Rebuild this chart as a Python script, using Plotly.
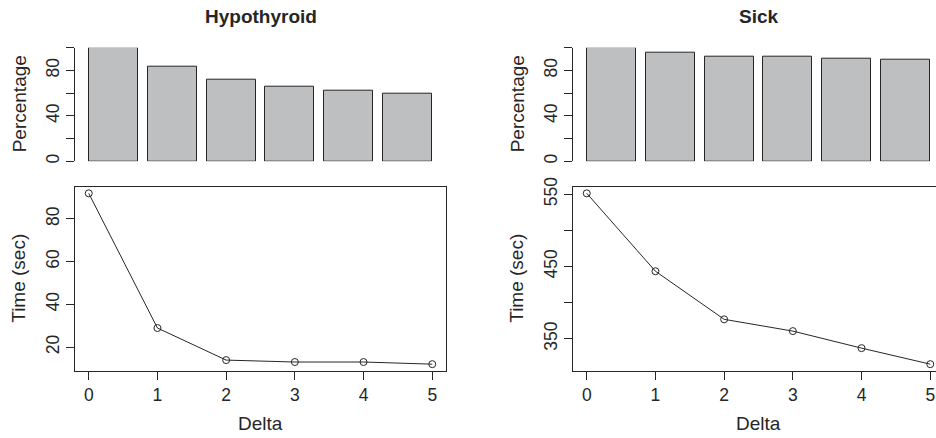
import plotly.graph_objects as go

# ---------------- data ----------------
delta = [0, 1, 2, 3, 4, 5]
hypo_pct = [100, 83.2, 72.1, 65.9, 62.0, 59.7]
sick_pct = [100, 95.3, 92.4, 92.4, 90.0, 89.7]
hypo_time = [91.9, 28.9, 13.9, 13.0, 13.0, 12.0]
sick_time = [551.4, 443.5, 376.9, 360.6, 337.0, 314.8]

pct_ticks = [0, 20, 40, 60, 80, 100]
pct_labels = ["0", "", "40", "", "80", ""]
hypo_time_ticks = [20, 40, 60, 80]
hypo_time_labels = ["20", "40", "60", "80"]
sick_time_ticks = [350, 400, 450, 500, 550]
sick_time_labels = ["350", "", "450", "", "550"]
delta_labels = ["0", "1", "2", "3", "4", "5"]

titles = ["Hypothyroid", "Sick"]

# ---------------- layout geometry (pixels) ----------------
W, H = 936, 438
FONT = "Liberation Sans, Arial, Helvetica, sans-serif"
INK = "#262626"
BAR = "#BEBFC1"
col_x0 = [75, 573]
col_w = 371.0
bar_top, bar_bot = 47.7, 161.3
line_top, line_bot = 186.5, 371.0


def xf(px):
    return px / W


def yf(py):
    return 1 - py / H


def padded(vals):
    lo, hi = min(vals), max(vals)
    d = (hi - lo) * 0.04
    return lo - d, hi + d


fig = go.Figure()

pct_sets = [hypo_pct, sick_pct]
time_sets = [hypo_time, sick_time]
time_ticks = [hypo_time_ticks, sick_time_ticks]
time_labels = [hypo_time_labels, sick_time_labels]

tickfont = dict(family=FONT, size=17.5, color=INK)

for c in range(2):
    x0 = col_x0[c]
    vis = min(1.0, (W - x0) / col_w)
    x1 = x0 + col_w * vis
    dom_x = [xf(x0), xf(x1)]

    # ---- bar panel ----
    bx = "x%d" % (2 * c + 1)
    by = "y%d" % (2 * c + 1)
    bxa = "xaxis%d" % (2 * c + 1)
    bya = "yaxis%d" % (2 * c + 1)
    fig.add_trace(go.Bar(
        x=delta, y=pct_sets[c], width=1 / 1.2,
        marker=dict(color=BAR, line=dict(color=INK, width=1)),
        xaxis=bx, yaxis=by, cliponaxis=False, showlegend=False,
        hoverinfo="x+y"))
    full_lo, full_hi = -0.65, 5.65
    fig.layout[bxa] = dict(domain=dom_x, anchor=by, automargin=False,
                           range=[full_lo, full_lo + (full_hi - full_lo) * vis],
                           visible=False, fixedrange=True)
    fig.layout[bya] = dict(domain=[yf(bar_bot), yf(bar_top)], anchor=bx,
                           automargin=False,
                           range=[0, 100], tickvals=pct_ticks, ticktext=pct_labels,
                           tickangle=-90, ticks="outside", ticklen=8,
                           tickwidth=1, tickcolor=INK, showline=True,
                           linecolor=INK, linewidth=1, showgrid=False,
                           zeroline=False, tickfont=tickfont, fixedrange=True)

    # ---- line panel ----
    lx = "x%d" % (2 * c + 2)
    ly = "y%d" % (2 * c + 2)
    lxa = "xaxis%d" % (2 * c + 2)
    lya = "yaxis%d" % (2 * c + 2)
    fig.add_trace(go.Scatter(
        x=delta, y=time_sets[c], mode="lines+markers",
        line=dict(color=INK, width=1),
        marker=dict(symbol="circle-open", size=7, color=INK,
                    line=dict(width=1, color=INK)),
        xaxis=lx, yaxis=ly, cliponaxis=False, showlegend=False))
    xlo, xhi = padded(delta)
    ylo, yhi = padded(time_sets[c])
    fig.layout[lxa] = dict(domain=dom_x, anchor=ly, automargin=False,
                           range=[xlo, xlo + (xhi - xlo) * vis],
                           tickvals=delta, ticktext=delta_labels,
                           ticks="outside", ticklen=8, tickwidth=1,
                           tickcolor=INK, showline=True, linecolor=INK,
                           linewidth=1, mirror=True, showgrid=False,
                           zeroline=False, tickfont=tickfont, fixedrange=True)
    fig.layout[lya] = dict(domain=[yf(line_bot), yf(line_top)], anchor=lx,
                           automargin=False,
                           range=[ylo, yhi], tickvals=time_ticks[c],
                           ticktext=time_labels[c], tickangle=-90,
                           ticks="outside", ticklen=8, tickwidth=1,
                           tickcolor=INK, showline=True, linecolor=INK,
                           linewidth=1, mirror=(vis >= 1.0), showgrid=False,
                           zeroline=False, tickfont=tickfont, fixedrange=True)

    cx = x0 + col_w / 2
    ann_font = dict(family=FONT, size=19, color=INK)
    fig.add_annotation(text="<b>%s</b>" % titles[c], x=xf(cx), y=yf(17),
                       xref="paper", yref="paper", xanchor="center",
                       yanchor="middle", showarrow=False, font=ann_font)
    fig.add_annotation(text="Percentage", x=xf(x0 - 56), y=yf((43.2 + 165.5) / 2),
                       xref="paper", yref="paper", xanchor="center",
                       yanchor="middle", textangle=-90, showarrow=False,
                       font=ann_font)
    fig.add_annotation(text="Time (sec)", x=xf(x0 - 56), y=yf((line_top + line_bot) / 2),
                       xref="paper", yref="paper", xanchor="center",
                       yanchor="middle", textangle=-90, showarrow=False,
                       font=ann_font)
    fig.add_annotation(text="Delta", x=xf(cx), y=yf(423),
                       xref="paper", yref="paper", xanchor="center",
                       yanchor="middle", showarrow=False, font=ann_font)

fig.update_layout(width=W, height=H,
                  margin=dict(l=0, r=0, t=0, b=0, autoexpand=False),
                  paper_bgcolor="white", plot_bgcolor="white",
                  bargap=0, showlegend=False)

fig.write_html(
    "out.html",
    config={"displayModeBar": False},
    post_script=(
        "document.documentElement.style.margin='0';"
        "document.documentElement.style.overflow='hidden';"
        "document.body.style.margin='0';"
        "document.body.style.padding='0';"
        "document.body.style.overflow='hidden';"
    ),
)
